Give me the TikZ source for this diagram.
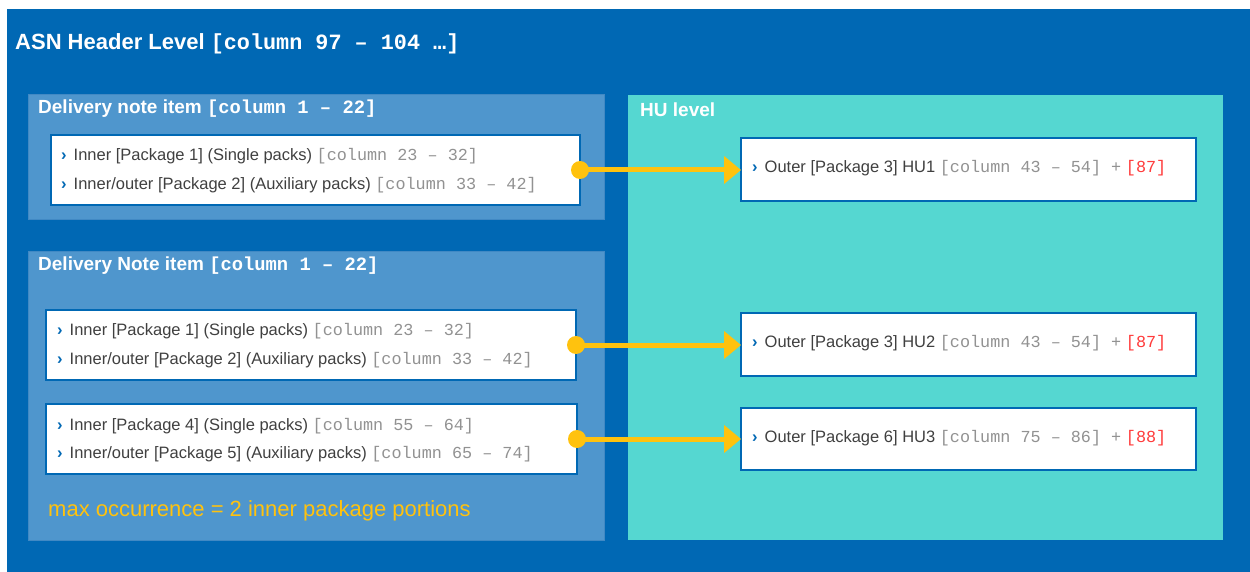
\documentclass[tikz,border=0pt]{standalone}
\usepackage{fontspec}
\setmainfont{Liberation Sans}
\setmonofont{Liberation Mono}
\usetikzlibrary{arrows.meta}

\definecolor{asnblue}{HTML}{0068B4}
\definecolor{itemblue}{HTML}{4F96CD}
\definecolor{itemedge}{HTML}{4189C4}
\definecolor{hucyan}{HTML}{55D7D1}
\definecolor{linkyellow}{HTML}{FFC20E}
\definecolor{bodygray}{HTML}{404040}
\definecolor{codegray}{HTML}{929292}
\definecolor{refred}{HTML}{FF3B3B}

% chevron bullet and code fragments
\newcommand\chevbul{{\color{asnblue}\bfseries ›}\hspace*{7pt}}
\newcommand\codepart[1]{{\fontsize{16.8}{18}\selectfont\ttfamily\color{codegray}#1}}
\newcommand\redref[1]{{\fontsize{16.8}{18}\selectfont\ttfamily\color{refred}#1}}

\begin{document}
\begin{tikzpicture}[x=1pt,y=-1pt,
  area/.style={rectangle, inner sep=0pt, outer sep=0pt, anchor=north west},
  itempanel/.style={area, fill=itemblue, draw=itemedge, line width=1pt},
  hupanel/.style={area, fill=hucyan},
  whitebox/.style={area, fill=white, draw=asnblue, line width=1.8pt},
  heading/.style={anchor=west, inner sep=0pt, yshift=-1.5pt, text=white, font=\fontsize{19}{22}\selectfont\bfseries},
  line/.style={anchor=west, inner sep=0pt, yshift=-1.5pt, text=bodygray, font=\fontsize{16.5}{19}\selectfont},
  link/.style={draw=linkyellow, line width=5pt, -{Triangle[length=17pt,width=27pt]}},
  dot/.style={fill=linkyellow}
]
\useasboundingbox (0,0) rectangle (1250,572);
\fill[white] (0,0) rectangle (1250,572);

% header level
\node[area, fill=asnblue, minimum width=1243pt, minimum height=563pt] (asn) at (7,9) {};
\node[heading, font=\fontsize{22}{26}\selectfont\bfseries] (asntitle) at (15,42)
  {ASN Header Level {\fontsize{21.8}{26}\selectfont\ttfamily\bfseries[column 97 – 104 …]}};

% delivery note item panels
\node[itempanel, minimum width=576pt, minimum height=125pt] (dn1) at (28,95) {};
\node[heading] (dn1title) at (38,107)
  {Delivery note item {\fontsize{18.8}{22}\selectfont\ttfamily\bfseries[column 1 – 22]}};

\node[itempanel, minimum width=576pt, minimum height=289pt] (dn2) at (28,251) {};
\node[heading] (dn2title) at (38,264)
  {Delivery Note item {\fontsize{18.8}{22}\selectfont\ttfamily\bfseries[column 1 – 22]}};

% handling unit panel
\node[hupanel, minimum width=595pt, minimum height=445pt] (hu) at (628,95) {};
\node[heading] (hutitle) at (640,108) {HU level};

% inner package boxes
\node[whitebox, minimum width=529pt, minimum height=70pt] (pk1) at (51,135) {};
\node[line] (pk1a) at (61,155) {\chevbul Inner [Package 1] (Single packs) \codepart{[column 23 – 32]}};
\node[line] (pk1b) at (61,184) {\chevbul Inner/outer [Package 2] (Auxiliary packs) \codepart{[column 33 – 42]}};

\node[whitebox, minimum width=530pt, minimum height=70pt] (pk2) at (46,310) {};
\node[line] (pk2a) at (57,330) {\chevbul Inner [Package 1] (Single packs) \codepart{[column 23 – 32]}};
\node[line] (pk2b) at (57,359) {\chevbul Inner/outer [Package 2] (Auxiliary packs) \codepart{[column 33 – 42]}};

\node[whitebox, minimum width=531pt, minimum height=70pt] (pk3) at (46,404) {};
\node[line] (pk3a) at (57,425) {\chevbul Inner [Package 4] (Single packs) \codepart{[column 55 – 64]}};
\node[line] (pk3b) at (57,453) {\chevbul Inner/outer [Package 5] (Auxiliary packs) \codepart{[column 65 – 74]}};

\node[anchor=west, inner sep=0pt, yshift=-1.5pt, text=linkyellow, font=\fontsize{22}{26}\selectfont] (maxocc) at (48,509)
  {max occurrence = 2 inner package portions};

% outer package boxes
\node[whitebox, minimum width=455pt, minimum height=63pt] (hu1) at (741,138) {};
\node[line] (hu1t) at (752,167) {\chevbul Outer [Package 3] HU1 \codepart{[column 43 – 54] +} \redref{[87]}};

\node[whitebox, minimum width=455pt, minimum height=63pt] (hu2) at (741,313) {};
\node[line] (hu2t) at (752,342) {\chevbul Outer [Package 3] HU2 \codepart{[column 43 – 54] +} \redref{[87]}};

\node[whitebox, minimum width=455pt, minimum height=62pt] (hu3) at (741,408) {};
\node[line] (hu3t) at (752,437) {\chevbul Outer [Package 6] HU3 \codepart{[column 75 – 86] +} \redref{[88]}};

% links from inner portions to handling units
\draw[link] (pk1.east) -- (pk1.east -| hu1.west);
\fill[dot] (pk1.east) circle (9pt);
\draw[link] (pk2.east) -- (pk2.east -| hu2.west);
\fill[dot] (pk2.east) circle (9pt);
\draw[link] (pk3.east) -- (pk3.east -| hu3.west);
\fill[dot] (pk3.east) circle (9pt);
\end{tikzpicture}
\end{document}
